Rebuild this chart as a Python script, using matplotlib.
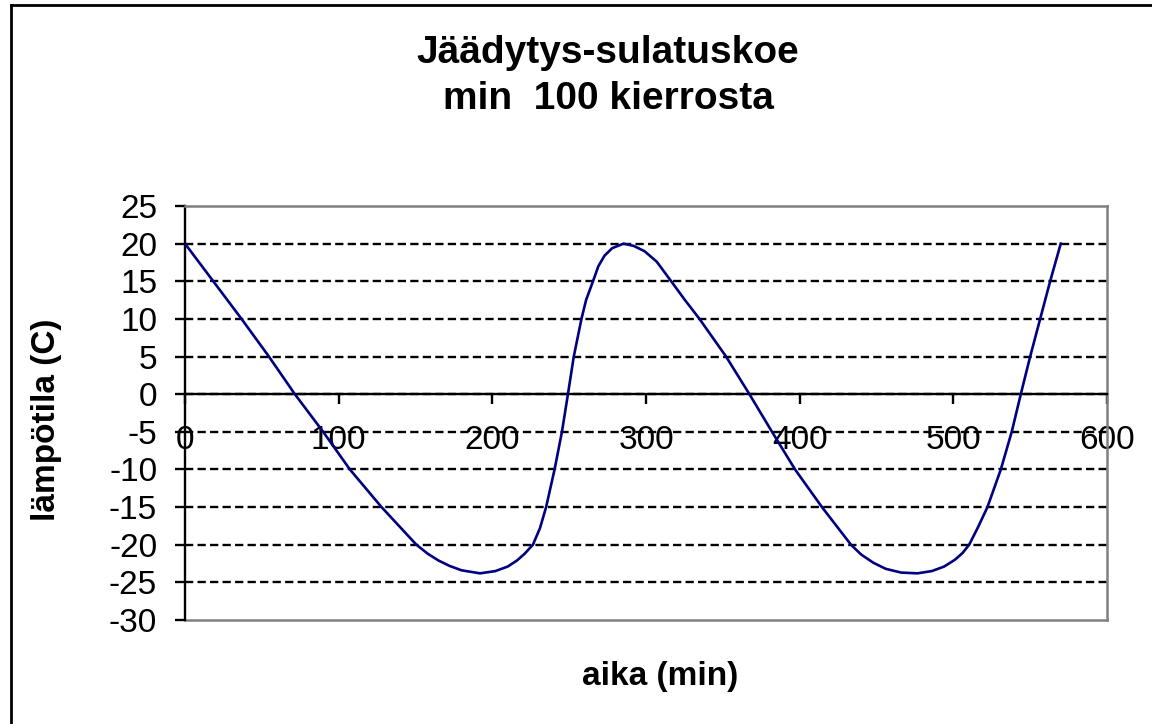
import matplotlib.pyplot as plt
from matplotlib.lines import Line2D

plt.rcParams["font.family"] = ["Liberation Sans", "DejaVu Sans"]
plt.rcParams["axes.unicode_minus"] = False

# time (min) and temperature (C)
aika = [0, 18.4, 36.8, 54.6, 71.5, 89.9, 107.3, 127.9, 150.6, 158, 165, 172,
        180, 192, 202, 210, 216, 221, 226.4, 231, 235, 240.5, 245.3, 249.2,
        253, 258, 261, 265.5, 269, 273, 278, 285.4, 292, 299, 307, 316.4,
        325, 334.8, 352.1, 367.3, 382, 397, 414.5, 433.4, 440, 448, 456, 466,
        476.7, 486, 494, 501, 506, 510.3, 516, 522.2, 530.9, 538, 543.9,
        550, 556.5, 563, 569.9]
lampotila = [20, 15, 10, 5, 0, -5, -10, -15, -20, -21.2, -22.1, -22.8,
             -23.4, -23.8, -23.5, -22.9, -22.1, -21.2, -20, -17.8, -15, -10,
             -5, 0, 5, 10, 12.5, 15, 17, 18.4, 19.4, 20, 19.7, 19, 17.6, 15,
             12.6, 10, 5, 0, -5, -10, -15, -20, -21.3, -22.4, -23.2, -23.7,
             -23.8, -23.5, -22.9, -22, -21.1, -20, -17.7, -15, -10, -5, 0,
             5, 10, 15, 20]

x_ticks = [0, 100, 200, 300, 400, 500, 600]
y_ticks = list(range(-30, 30, 5))

fig = plt.figure(figsize=(11.52, 7.24), dpi=100)
ax = fig.add_axes([185/1152, 1 - 620/724, (1107 - 185)/1152, (620 - 206)/724])

# dashed gridlines
for v in y_ticks[1:-1]:
    ax.axhline(v, color="black", lw=1.7, ls=(0, (3.5, 1.8)), zorder=1)
ax.axhline(-30, color="#808080", lw=1.8, zorder=1, clip_on=False)

ax.plot(aika, lampotila, color="#000080", lw=1.9, zorder=3,
        solid_joinstyle="round")

ax.set_xlim(0, 600)
ax.set_ylim(-30, 25)
ax.set_xticks(x_ticks)
ax.set_yticks(y_ticks)

ax.spines["bottom"].set_position(("data", 0))
ax.spines["bottom"].set_linewidth(1.7)
ax.spines["left"].set_linewidth(1.7)
ax.spines["top"].set_color("#808080")
ax.spines["right"].set_color("#808080")
ax.spines["top"].set_linewidth(1.8)
ax.spines["right"].set_linewidth(1.8)

ax.tick_params(axis="x", direction="out", length=7, width=1.7, pad=15,
               labelsize=24)
ax.tick_params(axis="y", direction="out", length=7, width=1.7, pad=13,
               labelsize=24)
for lbl in ax.get_xticklabels():
    lbl.set_zorder(5)

fig.text(608/1152, 1 - 76/724, "Jäädytys-sulatuskoe\nmin  100 kierrosta",
         ha="center", va="center", fontsize=28, fontweight="bold",
         linespacing=1.38)
fig.text(660/1152, 1 - 677/724, "aika (min)", ha="center", va="center",
         fontsize=24, fontweight="bold")
fig.text(47/1152, 1 - 420/724, "lämpötila (C)", ha="center", va="center",
         fontsize=24, fontweight="bold", rotation=90)

# outer chart border (only top and left visible)
fig.add_artist(Line2D([11/1152, 11/1152], [0, 1 - 5/724], color="black",
                      lw=2, transform=fig.transFigure))
fig.add_artist(Line2D([11/1152, 1], [1 - 5/724, 1 - 5/724], color="black",
                      lw=2, transform=fig.transFigure))

fig.savefig("out.png", dpi=100)
